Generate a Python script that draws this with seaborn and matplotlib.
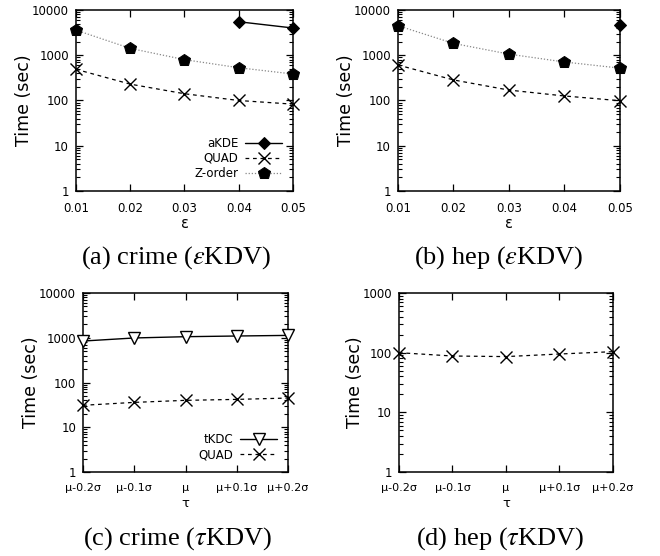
import numpy as np
import pandas as pd
import seaborn as sns
import matplotlib.pyplot as plt
from matplotlib.ticker import FixedLocator, NullFormatter

# data
eps = [0.01, 0.02, 0.03, 0.04, 0.05]
crime_akde_eps = [0.04, 0.05]
crime_akde = [5500, 4000]
crime_quad = [490, 230, 141, 100, 83]
crime_zorder = [3600, 1420, 800, 530, 385]
hep_akde_eps = [0.05]
hep_akde = [4650]
hep_quad = [610, 285, 170, 126, 99]
hep_zorder = [4500, 1830, 1060, 710, 520]

tau_labels = ["\u03bc-0.2\u03c3", "\u03bc-0.1\u03c3", "\u03bc", "\u03bc+0.1\u03c3", "\u03bc+0.2\u03c3"]
tau_pos = [0, 1, 2, 3, 4]
crime_tkdc = [845, 990, 1057, 1095, 1130]
crime_quad_tau = [31, 36, 40, 42, 45]
hep_quad_tau = [100, 88, 86, 95, 104]

sns.set_style("ticks")
plt.rcParams['font.family'] = ['DejaVu Sans']
plt.rcParams['mathtext.fontset'] = 'stix'
plt.rcParams['text.color'] = 'black'
plt.rcParams['axes.labelcolor'] = 'black'
plt.rcParams['xtick.color'] = 'black'
plt.rcParams['ytick.color'] = 'black'

fig = plt.figure(figsize=(6.6, 5.56), dpi=100)
axa = fig.add_axes([0.115, 0.6565, 0.329, 0.3255])
axb = fig.add_axes([0.603, 0.6565, 0.336, 0.3255])
axc = fig.add_axes([0.1258, 0.151, 0.3106, 0.322])
axd = fig.add_axes([0.6045, 0.151, 0.324, 0.322])

styles = {
    "aKDE": dict(color="black", linestyle="-", lw=1.0, marker="D", ms=6.5, mfc="black", mec="black"),
    "QUAD": dict(color="black", linestyle=(0, (3, 3)), lw=0.9, marker="x", ms=8, mew=1.0, mec="black"),
    "Z-order": dict(color="#888888", linestyle=(0, (1, 1.5)), lw=0.9, marker="p", ms=9, mfc="black", mec="black"),
    "tKDC": dict(color="black", linestyle="-", lw=1.0, marker="v", ms=9, mfc="white", mec="black", mew=1.0),
}


def draw(ax, x, y, name):
    st = styles[name]
    sns.lineplot(x=x, y=y, ax=ax, label=name, clip_on=False, zorder=3, **st)


def style_axes(ax, ymax, majors):
    ax.set_yscale("log")
    ax.set_ylim(1, ymax)
    ax.yaxis.set_major_locator(FixedLocator(majors))
    minors = [m * d for d in majors[:-1] for m in range(2, 10)]
    ax.yaxis.set_minor_locator(FixedLocator(minors))
    ax.yaxis.set_minor_formatter(NullFormatter())
    ax.set_yticklabels([str(v) for v in majors])
    ax.tick_params(axis="both", which="major", direction="in", length=5, width=0.9,
                   top=True, right=True, labelsize=8.5, color="black")
    ax.tick_params(axis="y", which="major", pad=5)
    ax.tick_params(axis="x", which="major", pad=8)
    ax.tick_params(axis="y", which="minor", direction="in", length=3.2, width=0.8,
                   left=True, right=True, color="black")
    for s in ax.spines.values():
        s.set_linewidth(1.1)
        s.set_color("black")
        s.set_visible(True)
    ax.set_ylabel("Time (sec)", fontsize=12.5, labelpad=-1)


legend_kw = dict(loc="lower right", frameon=False, markerfirst=False, fontsize=8.5,
                 handlelength=3.2, labelspacing=0.2, borderaxespad=0.5, handletextpad=0.5)

# (a)
draw(axa, crime_akde_eps, crime_akde, "aKDE")
draw(axa, eps, crime_quad, "QUAD")
draw(axa, eps, crime_zorder, "Z-order")
axa.set_xlim(0.01, 0.05)
axa.set_xticks(eps)
axa.set_xticklabels([f"{v:.2f}" for v in eps])
style_axes(axa, 10000, [1, 10, 100, 1000, 10000])
axa.set_xlabel("\u03b5", fontsize=10.5, labelpad=1)
axa.legend(**legend_kw)

# (b)
draw(axb, hep_akde_eps, hep_akde, "aKDE")
draw(axb, eps, hep_quad, "QUAD")
draw(axb, eps, hep_zorder, "Z-order")
axb.set_xlim(0.01, 0.05)
axb.set_xticks(eps)
axb.set_xticklabels([f"{v:.2f}" for v in eps])
style_axes(axb, 10000, [1, 10, 100, 1000, 10000])
axb.set_xlabel("\u03b5", fontsize=10.5, labelpad=1)
axb.get_legend().remove()

# (c)
draw(axc, tau_pos, crime_tkdc, "tKDC")
draw(axc, tau_pos, crime_quad_tau, "QUAD")
axc.set_xlim(0, 4)
axc.set_xticks(tau_pos)
axc.set_xticklabels(tau_labels)
style_axes(axc, 10000, [1, 10, 100, 1000, 10000])
axc.set_xlabel("\u03c4", fontsize=9.5, labelpad=3)
axc.legend(**legend_kw)

# (d)
draw(axd, tau_pos, hep_quad_tau, "QUAD")
axd.set_xlim(0, 4)
axd.set_xticks(tau_pos)
axd.set_xticklabels(tau_labels)
style_axes(axd, 1000, [1, 10, 100, 1000])
axd.set_xlabel("\u03c4", fontsize=9.5, labelpad=3)
axd.get_legend().remove()

for ax in (axc, axd):
    ax.tick_params(axis="x", labelsize=8)

cap = dict(fontsize=19, family="Liberation Serif", ha="center", va="center")
fig.text(176 / 660, 1 - 258 / 556, "(a) crime ($\\epsilon$KDV)", **cap)
fig.text(499 / 660, 1 - 258 / 556, "(b) hep ($\\epsilon$KDV)", **cap)
fig.text(177 / 660, 1 - 539 / 556, "(c) crime ($\\tau$KDV)", **cap)
fig.text(500 / 660, 1 - 539 / 556, "(d) hep ($\\tau$KDV)", **cap)

fig.savefig("out.png", dpi=100)
